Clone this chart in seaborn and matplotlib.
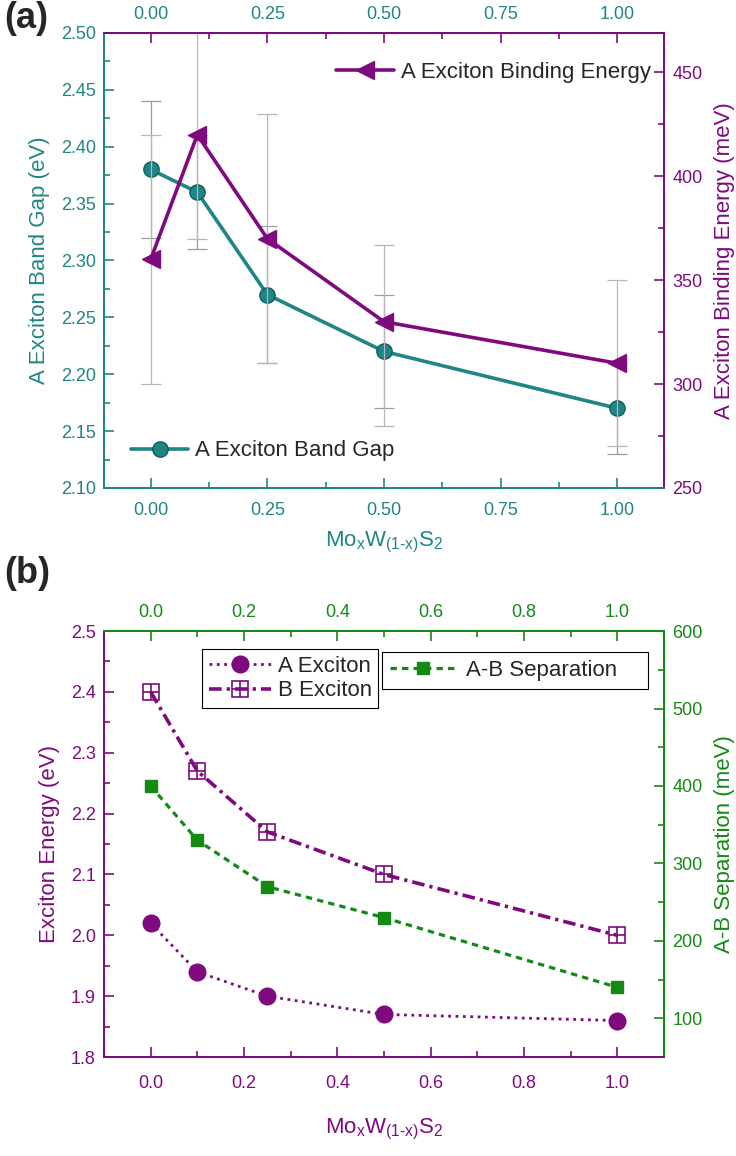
import numpy as np
import pandas as pd
import seaborn as sns
import matplotlib
matplotlib.use('Agg')
import matplotlib.pyplot as plt
from matplotlib.ticker import MultipleLocator, FormatStrFormatter

# composition x of MoxW(1-x)S2
comp = [0.0, 0.1, 0.25, 0.5, 1.0]

# panel (a): A exciton band gap (eV) and binding energy (meV), with error bars
band_gap = [2.38, 2.36, 2.27, 2.22, 2.17]
band_gap_err_lo = [0.06, 0.05, 0.06, 0.05, 0.04]
band_gap_err_hi = [0.06, 0.05, 0.06, 0.05, 0.04]
binding = [360, 420, 370, 330, 310]
binding_err_lo = [60, 50, 60, 50, 40]
binding_err_hi = [60, 50, 60, 37, 40]

# panel (b): exciton energies (eV) and A-B separation (meV)
a_exciton = [2.02, 1.94, 1.90, 1.87, 1.86]
b_exciton = [2.40, 2.27, 2.17, 2.10, 2.00]
ab_sep = [400, 330, 270, 230, 140]

teal = '#1f8585'
purple = '#7e0a7e'
green = '#138a13'

sns.set_theme(style='ticks')
plt.rcParams['font.family'] = ['Liberation Sans', 'DejaVu Sans']
plt.rcParams['mathtext.fontset'] = 'custom'
plt.rcParams['mathtext.rm'] = 'Liberation Sans'
plt.rcParams['mathtext.it'] = 'Liberation Sans:italic'
plt.rcParams['mathtext.bf'] = 'Liberation Sans:bold'

fig = plt.figure(figsize=(7.36, 11.56), dpi=100)
ax1 = fig.add_axes([0.1413, 0.5779, 0.7609, 0.3936])
ax1r = ax1.twinx()
ax2 = fig.add_axes([0.1413, 0.0856, 0.7609, 0.3685])
ax2r = ax2.twinx()


def style_axes(ax, axr, left_c, bottom_c, right_c, top_c, xstep, xfmt, xpad):
    for a in (ax, axr):
        a.spines['left'].set_color(left_c)
        a.spines['bottom'].set_color(bottom_c)
        a.spines['right'].set_color(right_c)
        a.spines['top'].set_color(top_c)
        for s in a.spines.values():
            s.set_linewidth(1.3)
            s.set_visible(True)
    ax.set_xlim(-0.1, 1.1)
    ax.xaxis.set_major_locator(MultipleLocator(xstep))
    ax.xaxis.set_minor_locator(MultipleLocator(xstep / 2))
    ax.xaxis.set_major_formatter(FormatStrFormatter(xfmt))
    ax.tick_params(axis='x', which='both', direction='in', color=bottom_c,
                   labelcolor=bottom_c, labelsize=13, top=False, pad=xpad)
    ax.tick_params(axis='x', which='major', length=7, width=1.2)
    ax.tick_params(axis='x', which='minor', length=4, width=1.2)
    ax.tick_params(axis='y', which='both', direction='in', color=left_c,
                   labelcolor=left_c, labelsize=13, pad=6)
    ax.tick_params(axis='y', which='major', length=7, width=1.2)
    ax.tick_params(axis='y', which='minor', length=4, width=1.2)
    axr.tick_params(axis='y', which='both', direction='in', color=right_c,
                    labelcolor=right_c, labelsize=13, pad=6)
    axr.tick_params(axis='y', which='major', length=7, width=1.2)
    axr.tick_params(axis='y', which='minor', length=4, width=1.2)
    sec = ax.secondary_xaxis('top')
    sec.xaxis.set_major_locator(MultipleLocator(xstep))
    sec.xaxis.set_minor_locator(MultipleLocator(xstep / 2))
    sec.xaxis.set_major_formatter(FormatStrFormatter(xfmt))
    sec.spines['top'].set_color(top_c)
    sec.spines['top'].set_linewidth(1.3)
    sec.tick_params(axis='x', which='both', direction='in', color=top_c, width=1.2, pad=7, labelsize=13)
    sec.tick_params(axis='x', which='major', length=7)
    sec.tick_params(axis='x', which='minor', length=4)
    return sec


xlab = r'$\mathrm{Mo_xW_{(1\text{-}x)}S_2}$'

# ---------------- panel (a) ----------------
ax1.errorbar(comp, band_gap, yerr=[band_gap_err_lo, band_gap_err_hi], fmt='none',
             ecolor='#9c9c9c', elinewidth=0.9, capsize=7, capthick=0.9, zorder=1)
sns.lineplot(x=comp, y=band_gap, ax=ax1, color=teal, lw=2.6, marker='o', markersize=11,
             markeredgecolor='#0e5e5e', markeredgewidth=1.0, zorder=3)
ln_bg = ax1.lines[-1]

ax1r.errorbar(comp, binding, yerr=[binding_err_lo, binding_err_hi], fmt='none',
              ecolor='#bfb0c4', elinewidth=0.9, capsize=7, capthick=0.9, zorder=1)
sns.lineplot(x=comp, y=binding, ax=ax1r, color=purple, lw=2.6, marker='<', markersize=13,
             markeredgecolor=purple, markeredgewidth=1.0, zorder=3)
ln_be = ax1r.lines[-1]

ax1.set_ylim(2.10, 2.50)
ax1.yaxis.set_major_locator(MultipleLocator(0.05))
ax1.yaxis.set_minor_locator(MultipleLocator(0.025))
ax1.yaxis.set_major_formatter(FormatStrFormatter('%.2f'))
ax1r.set_ylim(250, 469)
ax1r.yaxis.set_major_locator(MultipleLocator(50))
ax1r.yaxis.set_minor_locator(MultipleLocator(25))

sec1 = style_axes(ax1, ax1r, teal, teal, purple, purple, 0.25, '%.2f', 10)
sec1.tick_params(axis='x', labelcolor=teal)

ax1.set_xlabel(xlab, color=teal, fontsize=16, labelpad=8)
ax1.set_ylabel('A Exciton Band Gap (eV)', color=teal, fontsize=16, labelpad=8)
ax1r.set_ylabel('A Exciton Binding Energy (meV)', color=purple, fontsize=16, labelpad=8)

ax1.legend(handles=[ln_bg], labels=['A Exciton Band Gap'], loc='lower left',
           frameon=False, fontsize=16, handlelength=2.6, handletextpad=0.3,
           borderaxespad=0.8)
ax1r.legend(handles=[ln_be], labels=['A Exciton Binding Energy'], loc='upper right',
            frameon=False, fontsize=16, handlelength=2.6, handletextpad=0.3,
            bbox_to_anchor=(1.0, 0.965), borderaxespad=0.2)

# ---------------- panel (b) ----------------
sns.lineplot(x=comp, y=a_exciton, ax=ax2, color=purple, lw=2.0, linestyle=':',
             marker='o', markersize=12, markeredgecolor=purple, markeredgewidth=1.0, zorder=3)
ln_a = ax2.lines[-1]
sns.lineplot(x=comp, y=b_exciton, ax=ax2, color=purple, lw=2.6,
             marker='s', markersize=11, markerfacecolor='none',
             markeredgecolor=purple, markeredgewidth=1.2, zorder=3)
ln_b = ax2.lines[-1]
ln_b.set_dashes((3.5, 1.4, 0.9, 1.4))
sns.lineplot(x=comp, y=b_exciton, ax=ax2, color=purple, linestyle='none',
             marker='+', markersize=11, markeredgecolor=purple, markeredgewidth=1.2, zorder=4)
ln_b_plus = ax2.lines[-1]

sns.lineplot(x=comp, y=ab_sep, ax=ax2r, color=green, lw=2.3,
             marker='s', markersize=9, markeredgecolor=green, markeredgewidth=1.0, zorder=3)
ln_ab = ax2r.lines[-1]
ln_ab.set_dashes((2.0, 1.6))

ax2.set_ylim(1.8, 2.5)
ax2.yaxis.set_major_locator(MultipleLocator(0.1))
ax2.yaxis.set_minor_locator(MultipleLocator(0.05))
ax2.yaxis.set_major_formatter(FormatStrFormatter('%.1f'))
ax2r.set_ylim(50, 600)
ax2r.yaxis.set_major_locator(MultipleLocator(100))
ax2r.yaxis.set_minor_locator(MultipleLocator(50))

sec2 = style_axes(ax2, ax2r, purple, purple, green, green, 0.2, '%.1f', 13)
sec2.tick_params(axis='x', labelcolor=green)

ax2.set_xlabel(xlab, color=purple, fontsize=16, labelpad=18)
ax2.set_ylabel('Exciton Energy (eV)', color=purple, fontsize=16, labelpad=8)
ax2r.set_ylabel('A-B Separation (meV)', color=green, fontsize=16, labelpad=8)

leg1 = ax2r.legend(handles=[ln_a, (ln_b, ln_b_plus)], labels=['A Exciton', 'B Exciton'],
                   loc='upper left', bbox_to_anchor=(0.175, 0.957), fontsize=16,
                   frameon=True, fancybox=False, edgecolor='black', framealpha=1,
                   handlelength=2.8, handletextpad=0.3, labelspacing=0.15,
                   borderpad=0.3, borderaxespad=0)
leg1.get_frame().set_linewidth(0.8)
ax2r.add_artist(leg1)
leg2 = ax2r.legend(handles=[ln_ab], labels=['A-B Separation'], loc='upper left',
                   bbox_to_anchor=(0.497, 0.95, 0.474, 0.0), mode='expand',
                   fontsize=16, frameon=True, fancybox=False,
                   edgecolor='black', framealpha=1, handlelength=3.0,
                   handletextpad=0.4, borderpad=0.35, borderaxespad=0)
leg2.get_frame().set_linewidth(0.8)

fig.text(0.006, 0.999, '(a)', fontsize=26, fontweight='bold', va='top', ha='left')
fig.text(0.006, 0.519, '(b)', fontsize=26, fontweight='bold', va='top', ha='left')

fig.savefig('out.png', dpi=100)
